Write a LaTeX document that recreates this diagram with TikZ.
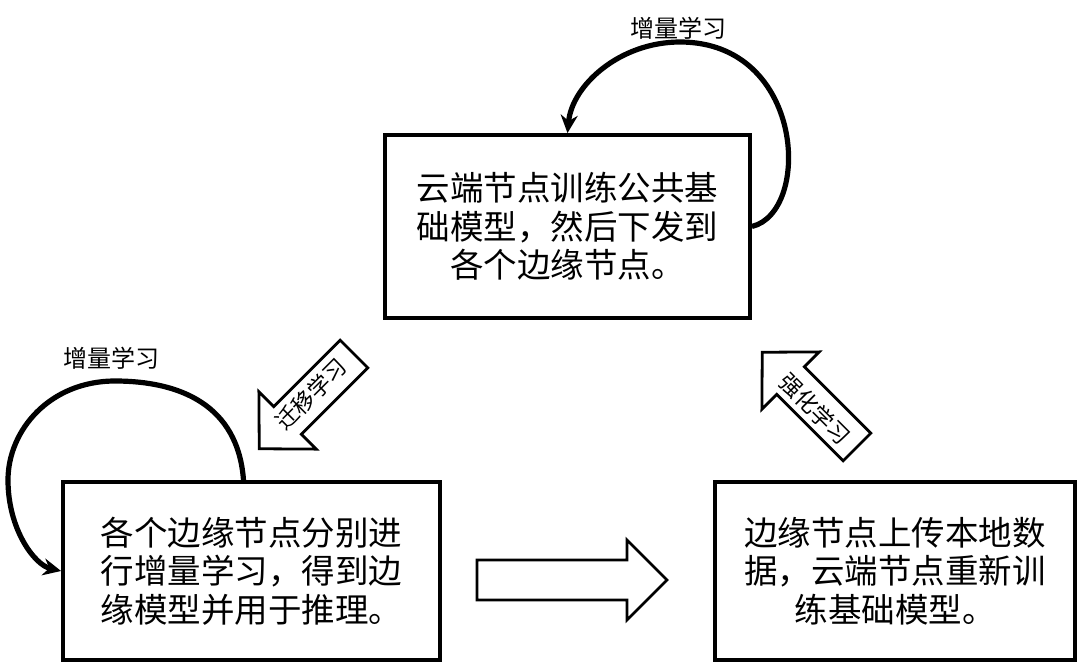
\documentclass[tikz,border=0pt]{standalone}
\usepackage{fontspec}
\setmainfont{Noto Sans CJK SC}
\usetikzlibrary{arrows.meta}
\begin{document}
\begin{tikzpicture}[x=1pt,y=-1pt,
  box/.style={draw, line width=3.8pt, align=center, inner sep=0pt,
    font=\fontsize{33.5}{38.5}\selectfont},
  loopline/.style={line width=5.2pt, -{Stealth[length=18pt,width=17pt]}},
  looplabel/.style={font=\fontsize{24}{26}\selectfont},
  blockarrow/.style={draw, line width=2.8pt, fill=white, line join=miter},
  arrowtext/.style={font=\fontsize{22.5}{24}\selectfont, inner sep=0pt}]
\useasboundingbox (0,0) rectangle (1087,670);

\node[box, minimum width=365, minimum height=183] (top) at (567.5,226.5)
  {云端节点训练公共基\\础模型，然后下发到\\各个边缘节点。};
\node[box, minimum width=377, minimum height=178] (left) at (251.5,571)
  {各个边缘节点分别进\\行增量学习，得到边\\缘模型并用于推理。};
\node[box, minimum width=360, minimum height=178] (right) at (895,571)
  {边缘节点上传本地数\\据，云端节点重新训\\练基础模型。};

% loop arrows
\coordinate (ltop) at (115,381);
\draw[loopline] (top.east) .. controls (812,212) and (805,42) .. (680,42)
  .. controls (620,42) and (572,85) .. (top.north);
\draw[loopline] ([xshift=-8pt]left.north) .. controls (238,405) and (180,381) .. (ltop)
  .. controls (50,381) and (8,430) .. (8,480)
  .. controls (8,530) and (35,565) .. (left.west);
\node[looplabel] (lab1) at (678,28) {增量学习};
\node[looplabel] (lab2) at (111,358) {增量学习};

% block arrows
\begin{scope}[shift={(354,354)}, rotate=225]
  \draw[blockarrow] (0,-19.5) -- (94,-19.5) -- (94,-40.5) -- (134,0) -- (94,40.5) -- (94,19.5) -- (0,19.5) -- cycle;
\end{scope}
\node[arrowtext, rotate=45] (t1) at (311,394) {迁移学习};

\begin{scope}[shift={(857,447)}, rotate=135]
  \draw[blockarrow] (0,-19.5) -- (94,-19.5) -- (94,-40.5) -- (134,0) -- (94,40.5) -- (94,19.5) -- (0,19.5) -- cycle;
\end{scope}
\node[arrowtext, rotate=-45] (t2) at (815,409) {强化学习};

\draw[blockarrow] (477,560) -- (627,560) -- (627,540) -- (667,580) -- (627,620) -- (627,600) -- (477,600) -- cycle;
\end{tikzpicture}
\end{document}
